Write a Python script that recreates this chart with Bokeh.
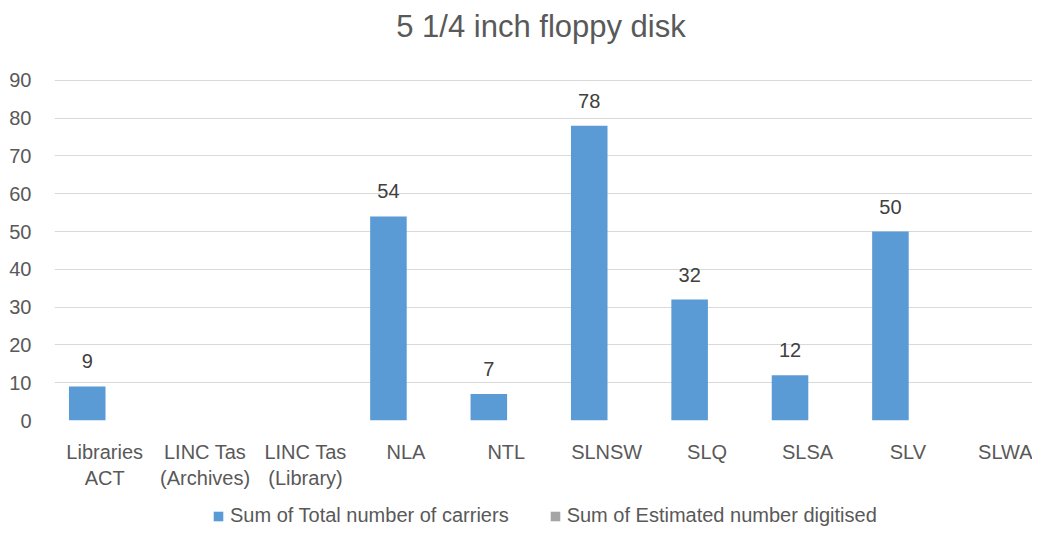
from bokeh.plotting import figure
from bokeh.models import Range1d, ColumnDataSource, Legend, LegendItem, FixedTicker, Label
from bokeh.layouts import column
from bokeh.transform import dodge
from bokeh.embed import file_html
from bokeh.resources import INLINE

categories = ["Libraries\nACT", "LINC Tas\n(Archives)", "LINC Tas\n(Library)", "NLA", "NTL",
              "SLNSW", "SLQ", "SLSA", "SLV", "SLWA"]
total_carriers = [9, 0, 0, 54, 7, 78, 32, 12, 50, 0]
est_digitised = [0, 0, 0, 0, 0, 0, 0, 0, 0, 0]
y_ticks = [0, 10, 20, 30, 40, 50, 60, 70, 80, 90]
title_text = "5 1/4 inch floppy disk"
series_names = ["Sum of Total number of carriers", "Sum of Estimated number digitised"]

FONT = "Liberation Sans"
TXT = "#595959"
BLUE = "#5B9BD5"
GREY = "#A5A5A5"

W = 1032
FRAME_LEFT = 54
FRAME_BOTTOM = 421      # canvas y of value 0
Y90 = 80                # canvas y of value 90
AXIS_PANEL = 70
MAIN_H = FRAME_BOTTOM + AXIS_PANEL
LEG_H = 527 - MAIN_H
CAT_W = 100.4           # px per category

centers = [i + 0.5 for i in range(len(categories))]
x_end = (W - FRAME_LEFT) / CAT_W
y_top = 90 * FRAME_BOTTOM / (FRAME_BOTTOM - Y90)

src = ColumnDataSource(dict(x=centers, total=total_carriers, est=est_digitised))
lab = ColumnDataSource(dict(
    x=[c for c, v in zip(centers, total_carriers) if v > 0],
    val=[v for v in total_carriers if v > 0],
    txt=[str(v) for v in total_carriers if v > 0],
))

p = figure(x_range=Range1d(0, x_end), y_range=Range1d(0, y_top),
           width=W, height=MAIN_H, output_backend="svg", toolbar_location=None,
           min_border_left=FRAME_LEFT, min_border_right=0, min_border_top=0,
           min_border_bottom=AXIS_PANEL)

p.add_layout(Label(x=486.5, y=FRAME_BOTTOM - 27, x_units="screen", y_units="screen", text=title_text,
                   text_align="center", text_baseline="middle", text_font=FONT,
                   text_font_size="31px", text_color=TXT))

p.vbar(x=dodge("x", -0.174), top="total", width=0.364, source=src, fill_color=BLUE, line_color=None)
p.vbar(x=dodge("x", 0.19), top="est", width=0.364, source=src, fill_color=GREY, line_color=None)

p.text(x=dodge("x", -0.174), y="val", text="txt", source=lab,
       text_align="center", text_baseline="middle", y_offset=-25,
       text_font_size="20px", text_color="#404040", text_font={"value": FONT})

p.outline_line_color = None
p.background_fill_color = "white"
p.border_fill_color = "white"

p.xgrid.grid_line_color = None
p.ygrid.grid_line_color = "#D9D9D9"
p.ygrid.grid_line_width = 1
p.yaxis.ticker = FixedTicker(ticks=y_ticks)
p.xaxis.ticker = FixedTicker(ticks=centers)
p.xaxis.major_label_overrides = {c: name for c, name in zip(centers, categories)}

for ax in (p.xaxis, p.yaxis):
    ax.axis_line_color = None
    ax.major_tick_line_color = None
    ax.minor_tick_line_color = None
    ax.major_label_text_font = FONT
    ax.major_label_text_font_size = "20px"
    ax.major_label_text_color = TXT

p.yaxis.major_label_standoff = 17
p.xaxis.major_label_standoff = 14

# legend strip
lg = figure(x_range=Range1d(0, 1), y_range=Range1d(0, 1), width=W, height=LEG_H,
            output_backend="svg", toolbar_location=None,
            min_border_left=0, min_border_right=0, min_border_top=0, min_border_bottom=0)
lg.axis.visible = False
lg.grid.visible = False
lg.outline_line_color = None
# off-range swatch glyphs so the legend has something to draw
e1 = lg.vbar(x=[5], top=[5], bottom=[4], width=0.1, fill_color=BLUE, line_color=None)
e2 = lg.vbar(x=[5], top=[5], bottom=[4], width=0.1, fill_color=GREY, line_color=None)
legend = Legend(items=[LegendItem(label=series_names[0], renderers=[e1]),
                       LegendItem(label=series_names[1], renderers=[e2])],
                orientation="horizontal", location=(158, 0),
                label_text_font=FONT, label_text_font_size="20px", label_text_color=TXT,
                glyph_width=12, glyph_height=12, spacing=40, label_standoff=6,
                border_line_color=None, background_fill_alpha=0, padding=0, margin=0)
lg.add_layout(legend)

open("out.html", "w").write(file_html(column(p, lg), INLINE))
